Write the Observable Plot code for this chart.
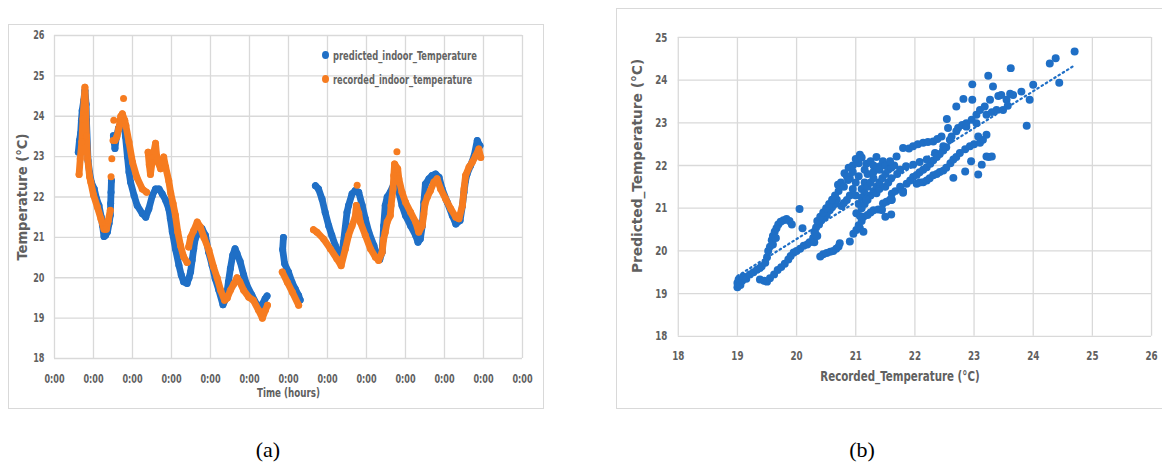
<!DOCTYPE html>
<html>
<head>
<meta charset="utf-8">
<script src="https://cdn.jsdelivr.net/npm/d3@7"></script>
<script src="https://cdn.jsdelivr.net/npm/@observablehq/plot@0.6"></script>
<style>
  body { margin: 0; background: #fff; }
  #page { position: relative; width: 1162px; height: 465px; overflow: hidden;
          font-family: "DejaVu Sans Condensed", "DejaVu Sans", sans-serif; }
  .panel { position: absolute; }
  .box { position: absolute; border: 1px solid #d9d9d9; box-sizing: border-box; pointer-events: none; }
  .legend { position: absolute; left: 322px; top: 43px; font-size: 12.5px; font-weight: bold; color: #646464; }
  .legend .row { display: flex; align-items: center; height: 24px; white-space: nowrap; }
  .legend .sw { width: 7px; height: 8px; border-radius: 50%; margin-right: 4px; flex: none; }
  .legend .txt { display: inline-block; transform-origin: left center; }
  .caption { position: absolute; top: 437px; width: 60px; text-align: center;
             font-family: "Liberation Serif", serif; font-size: 22px; color: #000; }
</style>
</head>
<body>
<div id="page">
  <div class="panel" id="panelA" style="left:8px;top:24px;"></div>
  <div class="box" style="left:8px;top:24px;width:536px;height:385px;"></div>
  <div class="legend" id="legendA"></div>
  <div class="panel" id="panelB" style="left:616px;top:8px;"></div>
  <div class="box" style="left:616px;top:8px;width:550px;height:401px;"></div>
  <div class="caption" style="left:238px;">(a)</div>
  <div class="caption" style="left:832px;">(b)</div>
</div>
<script>
// ---------- Panel (a): indoor temperature over time ----------
const seriesNames = ["predicted_indoor_Temperature", "recorded_indoor_temperature"];
const seriesColors = ["#1f6fc6", "#f67c20"];

const timeTicks = [0, 1, 2, 3, 4, 5, 6, 7, 8, 9, 10, 11, 12];
const timeTickLabels = ["0:00", "0:00", "0:00", "0:00", "0:00", "0:00", "0:00",
                        "0:00", "0:00", "0:00", "0:00", "0:00", "0:00"];
const tempTicksA = [18, 19, 20, 21, 22, 23, 24, 25, 26];

// predicted temperature, [day, °C], one array per continuous stretch
const predictedRuns = [
  [[0.61,23.11],[0.64,23.4],[0.67,23.58],[0.69,23.9],[0.71,24.14],[0.75,24.39],[0.78,24.64],
   [0.81,24.3],[0.82,23.9],[0.86,22.9],[0.9,22.6],[0.95,22.35],[1.02,22.2],[1.08,21.95],
   [1.14,21.79],[1.2,21.5],[1.23,21.3],[1.27,21.02],[1.31,21.05],[1.36,21.14],[1.4,21.35],
   [1.43,21.55],[1.44,21.84],[1.45,22.12],[1.46,22.41]],
  [[1.51,23.52],[1.55,23.2],[1.58,23.45],[1.64,23.7],[1.7,23.75],[1.74,23.93],[1.77,23.9],
   [1.82,23.5],[1.87,23.0],[1.91,22.62],[1.95,22.37],[2.04,22.04],[2.12,21.79],[2.25,21.59],
   [2.34,21.5],[2.42,21.71],[2.51,22.04],[2.59,22.2],[2.68,22.2],[2.76,22.08],[2.85,21.92],
   [2.93,21.71],[2.97,21.47],[3.02,21.14],[3.1,20.72],[3.19,20.31],[3.25,20.07],[3.31,19.9],
   [3.4,19.86],[3.45,20.0],[3.49,20.15],[3.53,20.44],[3.57,20.72],[3.61,20.97],[3.7,21.14],
   [3.78,21.22],[3.87,21.05],[3.95,20.64],[4.04,20.31],[4.12,19.98],[4.21,19.7],[4.32,19.33],
   [4.4,19.49],[4.46,19.9],[4.51,20.23],[4.57,20.56],[4.63,20.72],[4.68,20.6],[4.76,20.4],
   [4.85,20.07],[4.93,19.82],[5.06,19.57],[5.19,19.33],[5.25,19.25],[5.33,19.35],[5.4,19.48],
   [5.45,19.55]],
  [[5.87,21.0],[5.85,20.7],[5.9,20.35],[6.0,20.14],[6.09,19.89],[6.17,19.73],[6.26,19.56],[6.3,19.45]],
  [[6.69,22.28],[6.77,22.2],[6.86,21.95],[6.94,21.62],[7.03,21.29],[7.11,21.05],[7.2,20.8],
   [7.29,20.55],[7.34,20.4],[7.41,20.88],[7.5,21.62],[7.54,21.79],[7.63,22.08],[7.71,22.16],
   [7.8,22.12],[7.89,21.79],[7.97,21.46],[8.06,21.13],[8.19,20.8],[8.27,20.55],[8.34,20.45],
   [8.4,20.63],[8.44,21.29],[8.48,21.79],[8.53,22.0],[8.61,22.12],[8.7,22.32],[8.78,22.53],
   [8.83,22.12],[8.91,21.79],[9.0,21.54],[9.13,21.29],[9.26,21.05],[9.32,20.88],[9.38,20.96],
   [9.43,21.29],[9.47,21.87],[9.51,22.32],[9.6,22.45],[9.68,22.53],[9.77,22.57],[9.86,22.49],
   [9.94,22.2],[10.07,21.87],[10.2,21.54],[10.29,21.33],[10.4,21.42],[10.46,21.79],[10.5,22.12],
   [10.54,22.41],[10.58,22.57],[10.67,22.78],[10.76,23.02],[10.84,23.4],[10.91,23.27]]
];
const predictedLoose = [];

// recorded temperature, [day, °C]
const recordedRuns = [
  [[0.63,22.56],[0.66,22.95],[0.7,23.36],[0.73,23.93],[0.76,24.4],[0.78,24.72],[0.8,24.18],
   [0.82,23.52],[0.85,22.95],[0.9,22.5],[0.93,22.37],[1.0,22.05],[1.1,21.75],[1.19,21.46],
   [1.27,21.2],[1.33,21.2],[1.38,21.42],[1.43,21.67]],
  [[1.55,23.4],[1.6,23.5],[1.65,23.7],[1.7,24.0],[1.74,24.06],[1.8,23.9],[1.83,23.77],
   [1.91,23.36],[2.0,22.86],[2.11,22.49],[2.25,22.2],[2.36,22.12]],
  [[2.4,23.11],[2.43,22.8],[2.46,22.56],[2.5,22.84],[2.55,23.13],[2.59,23.33],[2.63,22.92],
   [2.72,22.7],[2.8,22.99],[2.85,22.74],[2.93,22.4],[2.98,22.1],[3.04,21.84],[3.1,21.55],
   [3.16,21.14],[3.23,20.8],[3.31,20.52],[3.4,20.38]],
  [[3.44,20.76],[3.49,21.0],[3.57,21.17],[3.66,21.38],[3.74,21.26],[3.83,21.0],[3.96,20.68],
   [4.08,20.26],[4.17,20.0],[4.26,19.69],[4.36,19.44],[4.43,19.5],[4.51,19.69],[4.6,19.85],
   [4.68,20.0],[4.75,19.9],[4.85,19.69],[4.98,19.52],[5.1,19.44],[5.23,19.2],[5.33,19.0],
   [5.41,19.2],[5.46,19.32]],
  [[5.84,20.14],[5.97,19.89],[6.1,19.64],[6.26,19.32]],
  [[6.64,21.19],[6.73,21.13],[6.9,20.96],[7.07,20.72],[7.24,20.47],[7.35,20.3],[7.46,20.72],
   [7.54,21.05],[7.63,21.29],[7.71,21.5],[7.74,21.79],[7.8,21.6],[7.84,21.38],[7.97,21.05],
   [8.1,20.72],[8.23,20.51],[8.31,20.43],[8.4,20.63],[8.44,20.96],[8.48,21.13],[8.53,21.38],
   [8.61,21.54],[8.63,21.79],[8.68,22.2],[8.7,22.53],[8.72,22.82],[8.8,22.7],[8.83,22.45],
   [8.91,22.12],[9.0,21.87],[9.13,21.62],[9.26,21.38],[9.34,21.13],[9.43,21.29],[9.47,21.58],
   [9.5,21.83],[9.56,22.0],[9.64,22.16],[9.73,22.37],[9.81,22.45],[9.9,22.2],[10.03,21.95],
   [10.16,21.71],[10.29,21.5],[10.37,21.46],[10.46,21.79],[10.5,22.2],[10.54,22.53],
   [10.63,22.74],[10.71,22.86],[10.8,23.02],[10.88,23.19],[10.93,22.98]]
];
const recordedLoose = [[1.45,22.5],[1.47,22.95],[1.5,23.4],[1.52,23.9],[1.77,24.44],
                       [7.76,22.29],[8.78,23.12]];

// ---------- Panel (b): predicted vs recorded ----------
const axisTicksB = [18, 19, 20, 21, 22, 23, 24, 25, 26];
const axisTicksBY = [18, 19, 20, 21, 22, 23, 24, 25];
// [recorded °C, predicted °C]
const scatterPairs = [
  [19.0,19.15],[19.0,19.25],[19.02,19.33],[19.05,19.2],[19.08,19.3],[19.1,19.4],[19.15,19.35],
  [19.21,19.45],[19.27,19.5],[19.33,19.56],[19.38,19.6],[19.41,19.64],[19.47,19.72],
  [19.5,19.85],[19.52,20.0],[19.55,20.1],[19.58,20.25],[19.6,20.35],[19.63,20.45],[19.66,20.53],
  [19.69,20.62],[19.73,20.68],[19.78,20.72],[19.83,20.75],[19.88,20.7],[19.92,20.62],
  [19.6,20.15],[19.65,20.3],[20.05,20.98],[20.1,20.53],
  [19.38,19.33],[19.45,19.3],[19.5,19.28],[19.55,19.36],[19.62,19.45],[19.68,19.55],
  [19.74,19.62],[19.8,19.7],[19.86,19.8],[19.9,19.88],[19.95,19.96],[20.0,20.0],[20.06,20.05],
  [20.12,20.12],[20.18,20.15],[20.22,20.2],
  [20.28,20.3],[20.3,20.45],[20.33,20.55],[20.38,20.62],[20.42,20.72],[20.47,20.78],
  [20.51,20.84],[20.56,20.95],[20.6,21.02],[20.65,21.1],[20.68,21.2],[20.71,21.4],
  [20.76,21.05],[20.8,21.12],[20.85,21.19],[20.9,21.3],[20.95,21.45],[21.0,21.6],[21.05,21.75],
  [20.35,20.7],[20.4,20.8],[20.45,20.9],[20.5,21.0],[20.55,21.1],[20.6,21.2],[20.65,21.3],
  [20.7,21.55],[20.75,21.6],[20.8,21.5],[20.9,21.7],[20.95,21.85],[21.05,22.05],
  [20.3,20.2],[20.35,20.35],[20.32,20.4],
  [20.81,21.82],[20.85,21.75],[20.88,21.95],[20.95,22.0],[21.0,22.15],[21.07,22.25],
  [21.1,22.19],[20.87,21.66],
  [21.18,22.04],[21.25,22.1],[21.3,22.0],[21.35,22.2],[21.41,21.98],[21.46,22.1],
  [21.15,21.9],[21.2,21.8],[21.3,21.85],[21.4,21.9],[21.5,22.0],
  [20.4,19.87],[20.45,19.92],[20.51,19.95],[20.57,19.98],[20.62,20.0],[20.67,20.05],
  [20.71,20.1],[20.73,20.18],[20.9,20.22],[20.96,20.4],[21.01,20.49],[21.07,20.53],[21.13,20.45],
  [21.05,20.6],[21.1,20.7],[21.05,21.1],[21.0,21.3],[21.15,21.6],[21.1,21.45],
  [21.01,20.88],[21.07,20.82],[21.13,20.8],[21.2,20.84],[21.25,20.9],[21.3,20.95],[21.38,20.97],
  [21.44,20.96],[21.46,21.11],[21.52,21.15],[21.58,21.2],[21.61,21.34],[21.67,21.4],
  [21.75,21.5],[21.8,21.4],[21.86,21.57],[21.92,21.65],[21.97,21.73],[22.03,21.78],
  [22.08,21.84],[22.14,21.9],[22.2,21.96],[22.26,22.04],[22.31,22.12],[22.37,22.2],
  [22.42,22.27],[22.48,22.35],[22.53,22.43],
  [21.1,21.0],[21.15,21.1],[21.2,21.2],[21.25,21.3],[21.3,21.4],[21.35,21.5],[21.4,21.6],
  [21.45,21.7],[21.5,21.8],[21.55,21.9],[21.6,21.95],[21.65,22.0],[21.2,21.5],[21.25,21.6],
  [21.3,21.7],[21.35,21.35],[21.15,21.35],[21.1,21.25],[21.4,21.45],[21.5,21.5],[21.55,21.6],
  [21.6,21.7],[21.7,21.8],[21.18,21.19],[21.5,20.8],[21.6,20.85],[21.6,21.19],
  [22.03,21.57],[22.08,21.6],[22.14,21.61],[22.2,21.65],[22.25,21.7],[22.31,21.77],
  [22.37,21.8],[22.42,21.85],[22.48,21.88],[22.53,21.95],[22.6,22.05],[22.65,22.14],
  [22.7,22.2],[22.76,22.29],[22.85,22.38],[22.93,22.45],[23.0,22.5],[23.1,22.53],[23.21,22.21],
  [23.3,22.21],[23.25,22.2],[23.13,22.02],[23.07,21.79],[22.85,21.86],[22.65,21.71],[22.95,22.1],
  [21.58,22.1],[21.69,22.21],[21.8,22.41],[21.9,22.4],[21.97,22.45],[22.05,22.5],[22.14,22.53],
  [22.22,22.55],[22.31,22.56],[22.38,22.62],[22.45,22.68],[22.54,23.09],[22.56,22.88],
  [22.62,22.68],[22.7,23.38],[22.73,22.88],[22.8,22.95],[22.82,23.56],[22.87,22.99],
  [22.96,23.07],[22.97,23.9],[22.97,23.54],[23.04,23.19],[23.1,23.3],[23.18,23.38],[23.24,24.1],
  [23.27,23.54],[23.32,23.85],[23.41,23.63],[23.46,23.65],[23.55,23.54],[23.61,23.68],
  [23.62,24.28],[23.66,23.65],[23.8,23.73],[23.89,22.93],[23.94,23.54],[24.0,23.89],
  [24.28,24.39],[24.38,24.51],[24.44,23.94],[24.7,24.67],
  [21.75,21.9],[21.85,21.98],[21.97,22.02],[22.08,22.08],[22.2,22.14],[22.34,22.29],
  [22.48,22.45],[22.59,22.6],[22.7,22.8],[22.87,22.91],[23.04,22.99],[23.21,23.19],[23.3,23.25],
  [23.38,23.3],[23.49,23.3],[23.57,23.4],[23.07,22.68],[23.21,22.72],[23.15,22.6],
  [21.61,21.2],[21.44,20.97],[21.8,21.36]
];

// ---------- shared styling ----------
const tickColor = "#606060";
const gridColor = "#d9d9d9";
const fontStack = '"DejaVu Sans Condensed", "DejaVu Sans", sans-serif';

function flatten(runs, loose) {
  const rows = [];
  runs.forEach((run, i) => run.forEach(([day, temp]) => rows.push({day, temp, run: i})));
  loose.forEach(([day, temp], j) => rows.push({day, temp, run: `loose${j}`, loose: true}));
  return rows;
}
const predictedRows = flatten(predictedRuns, predictedLoose);
const recordedRows = flatten(recordedRuns, recordedLoose);

function seriesMarks(rows, color) {
  const connected = rows.filter(d => !d.loose);
  return [
    Plot.line(connected, {x: "day", y: "temp", z: "run", stroke: color, strokeWidth: 6.8,
      strokeLinecap: "round", strokeLinejoin: "round"}),
    Plot.dot(rows, {x: "day", y: "temp", r: 3.5, fill: color, stroke: "none"})
  ];
}

// narrow the rendered glyphs so the text runs like a compact UI face
function squeeze(svg, selector, factor) {
  svg.querySelectorAll(selector).forEach(t => {
    t.setAttribute("textLength", (t.getComputedTextLength() * factor).toFixed(1));
    t.setAttribute("lengthAdjust", "spacingAndGlyphs");
  });
}
function fitTo(svg, selector, width) {
  svg.querySelectorAll(selector).forEach(t => {
    t.setAttribute("textLength", width);
    t.setAttribute("lengthAdjust", "spacingAndGlyphs");
  });
}

const chartA = Plot.plot({
  width: 535, height: 384,
  marginLeft: 46, marginRight: 21, marginTop: 11, marginBottom: 50,
  style: {fontFamily: fontStack, fontSize: "12px", fontWeight: "bold", color: tickColor, background: "transparent"},
  x: {domain: [0, 12]},
  y: {domain: [18, 26]},
  marks: [
    Plot.gridX(timeTicks, {stroke: gridColor, strokeOpacity: 1, strokeWidth: 1.3}),
    Plot.gridY(tempTicksA, {stroke: gridColor, strokeOpacity: 1, strokeWidth: 1.3}),
    Plot.axisX(timeTicks, {tickSize: 0, tickPadding: 16, label: null,
      tickFormat: (d, i) => timeTickLabels[i]}),
    Plot.axisY(tempTicksA, {tickSize: 0, tickPadding: 10, label: null}),
    ...seriesMarks(predictedRows, seriesColors[0]),
    ...seriesMarks(recordedRows, seriesColors[1]),
    Plot.text(["Temperature (°C)"], {frameAnchor: "left", textAnchor: "middle", dx: -32, dy: 0,
      rotate: -90, fontSize: 14, fontWeight: "bold", fill: tickColor, className: "ttl-ya"}),
    Plot.text(["Time (hours)"], {frameAnchor: "bottom", textAnchor: "middle", dy: 38, fontSize: 13,
      fontWeight: "bold", fill: tickColor, className: "ttl-xa"})
  ]
});
document.getElementById("panelA").append(chartA);
squeeze(chartA, 'g[aria-label$="tick label"] text', 0.75);
fitTo(chartA, ".ttl-ya text", 127);
fitTo(chartA, ".ttl-xa text", 63);

// legend for panel (a)
const legend = document.getElementById("legendA");
const legendWidths = [144, 139];
seriesNames.forEach((name, i) => {
  const row = document.createElement("div");
  row.className = "row";
  const sw = document.createElement("span");
  sw.className = "sw";
  sw.style.background = seriesColors[i];
  const label = document.createElement("span");
  label.className = "txt";
  label.textContent = name;
  row.append(sw, label);
  legend.append(row);
  label.style.transform = `scaleX(${legendWidths[i] / label.offsetWidth})`;
});

const chartB = Plot.plot({
  width: 548, height: 400,
  marginLeft: 62, marginRight: 11, marginTop: 29, marginBottom: 71,
  style: {fontFamily: fontStack, fontSize: "13px", fontWeight: "bold", color: tickColor, background: "transparent"},
  x: {domain: [18, 26]},
  y: {domain: [18, 25]},
  marks: [
    Plot.gridX(axisTicksB, {stroke: gridColor, strokeOpacity: 1, strokeWidth: 1.3}),
    Plot.gridY(axisTicksBY, {stroke: gridColor, strokeOpacity: 1, strokeWidth: 1.3}),
    Plot.axisX(axisTicksB, {tickSize: 0, tickPadding: 15, label: null}),
    Plot.axisY(axisTicksBY, {tickSize: 0, tickPadding: 11, label: null}),
    Plot.dot(scatterPairs, {x: d => d[0], y: d => d[1], r: 4, fill: seriesColors[0], stroke: "none"}),
    Plot.linearRegressionY(scatterPairs, {x: d => d[0], y: d => d[1], ci: 0,
      stroke: seriesColors[0], strokeWidth: 2.2, strokeDasharray: "1.5,3.5", strokeLinecap: "round"}),
    Plot.text(["Predicted_Temperature (°C)"], {frameAnchor: "left", textAnchor: "middle", dx: -41, dy: -21,
      rotate: -90, fontSize: 14, fontWeight: "bold", fill: tickColor, className: "ttl-yb"}),
    Plot.text(["Recorded_Temperature (°C)"], {frameAnchor: "bottom", textAnchor: "middle", dx: -15, dy: 45,
      fontSize: 13.5, fontWeight: "bold", fill: tickColor, className: "ttl-xb"})
  ]
});
document.getElementById("panelB").append(chartB);
squeeze(chartB, 'g[aria-label$="tick label"] text', 0.75);
fitTo(chartB, ".ttl-yb text", 215);
fitTo(chartB, ".ttl-xb text", 160);
</script>
</body>
</html>
